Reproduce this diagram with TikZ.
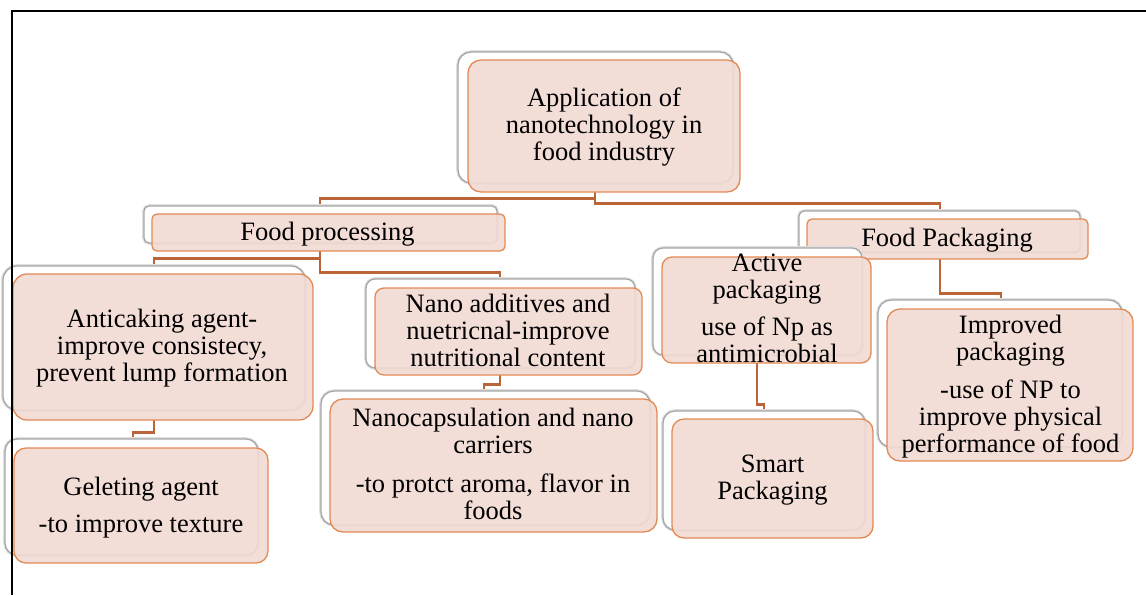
\documentclass[tikz,border=0pt]{standalone}
\usepackage{fontspec}
\setmainfont{Liberation Serif}
\definecolor{boxfill}{RGB}{242,218,211}
\definecolor{boxline}{RGB}{226,138,84}
\definecolor{connline}{RGB}{186,100,56}
\tikzset{
  backbox/.style={draw=gray!70, line width=1.3pt, fill=white, rounded corners=#1, inner sep=0pt,
    preaction={draw=gray!25, line width=3.6pt}},
  frontbox/.style={draw=boxline, line width=1.3pt, fill=boxfill, fill opacity=0.9, rounded corners=#1, inner sep=0pt},
  txt/.style={font=\fontsize{26.5}{26.7}\selectfont, align=center, inner sep=0pt, text=black,
    execute at begin node=\strut, execute at end node=\strut},
  conn/.style={draw=connline, line width=2.9pt},
}
\begin{document}
\begin{tikzpicture}[x=1pt,y=-1pt]
\useasboundingbox (0,0) rectangle (1146,595);

% front boxes positions (named nodes) defined first for connectors
\path
  (604,126)    node[minimum width=272pt, minimum height=132pt] (root) {}
  (328.5,232.5) node[minimum width=353pt, minimum height=37pt] (fp) {}
  (947.5,239)  node[minimum width=281pt, minimum height=40pt] (fpk) {}
  (766.5,310)  node[minimum width=209pt, minimum height=106pt] (act) {}
  (1010,385)   node[minimum width=246pt, minimum height=152pt] (imp) {}
  (163,347)    node[minimum width=300pt, minimum height=146pt] (anti) {}
  (508.5,331.5) node[minimum width=267pt, minimum height=87pt] (nano) {}
  (141,505.5)  node[minimum width=254pt, minimum height=115pt] (gel) {}
  (493.5,465.5) node[minimum width=327pt, minimum height=133pt] (caps) {}
  (772.5,478.5) node[minimum width=201pt, minimum height=119pt] (smart) {};

% connectors
\draw[conn] ([xshift=-9pt]root.south) -- ++(0,6) -| ([xshift=-8.5pt]fp.north);
\draw[conn] ([xshift=-9pt]root.south) -- ++(0,11) -| ([xshift=-7.5pt]fpk.north);
\draw[conn] ([xshift=-8.5pt]fp.south) -- ++(0,7) -| ([xshift=-9pt]anti.north);
\draw[conn] ([xshift=-8.5pt]fp.south) -- ++(0,21) -| ([xshift=-8.5pt]nano.north);
\draw[conn] ([xshift=-9pt]anti.south) -- ++(0,12) -| ([xshift=-8pt]gel.north);
\draw[conn] ([xshift=-8.5pt]nano.south) -- ++(0,9) -| ([xshift=-9.5pt]caps.north);
\draw[conn] ([xshift=12.5pt,yshift=12pt]fpk.south west) -| ([xshift=-8.5pt]act.north);
\draw[conn] ([xshift=-9.5pt]act.south) -- ++(0,41) -| ([xshift=-8.5pt]smart.north);
\draw[conn] ([xshift=-7.5pt]fpk.south) -- ++(0,34) -| ([xshift=-9pt]imp.north);

% boxes: back then front
\node[backbox=13pt, minimum width=275pt, minimum height=131pt] (rootb) at (595.5,117.5) {};
\node[frontbox=13pt, minimum width=272pt, minimum height=132pt] (rootf) at (root) {};

\node[backbox=5pt, minimum width=353pt, minimum height=37pt] (fpb) at (320.5,224.5) {};
\node[frontbox=5pt, minimum width=353pt, minimum height=37pt] (fpf) at (fp) {};

\node[backbox=5pt, minimum width=281pt, minimum height=41pt] (fpkb) at (939.5,231.5) {};
\node[frontbox=5pt, minimum width=281pt, minimum height=40pt] (fpkf) at (fpk) {};

\node[backbox=10pt, minimum width=209pt, minimum height=107pt] (actb) at (757.5,301.5) {};
\node[frontbox=10pt, minimum width=209pt, minimum height=106pt] (actf) at (act) {};

\node[backbox=13pt, minimum width=244pt, minimum height=147pt] (impb) at (1000,373.5) {};
\node[frontbox=13pt, minimum width=246pt, minimum height=152pt] (impf) at (imp) {};

\node[backbox=14pt, minimum width=302pt, minimum height=144pt] (antib) at (154,338) {};
\node[frontbox=14pt, minimum width=300pt, minimum height=146pt] (antif) at (anti) {};

\node[backbox=9pt, minimum width=269pt, minimum height=89pt] (nanob) at (500.5,323.5) {};
\node[frontbox=9pt, minimum width=267pt, minimum height=87pt] (nanof) at (nano) {};

\node[backbox=12pt, minimum width=253pt, minimum height=116pt] (gelb) at (131.5,497) {};
\node[frontbox=12pt, minimum width=254pt, minimum height=115pt] (gelf) at (gel) {};

\node[backbox=13pt, minimum width=329pt, minimum height=134pt] (capsb) at (485.5,458) {};
\node[frontbox=13pt, minimum width=327pt, minimum height=133pt] (capsf) at (caps) {};

\node[backbox=12pt, minimum width=202pt, minimum height=119pt] (smartb) at (764,470.5) {};
\node[frontbox=12pt, minimum width=201pt, minimum height=119pt] (smartf) at (smart) {};

% texts
\node[txt] (roott) at (604,128.2) {Application of\\nanotechnology in\\food industry};
\node[txt] (fpt) at (327.5,234.7) {Food processing};
\node[txt] (fpkt) at (947,240.7) {Food Packaging};
\node[txt] (actt) at (767,312.2) {Active\\packaging\\[11pt]use of Np as\\antimicrobial};
\node[txt] (impt) at (1010.5,387.7) {Improved\\packaging\\[12pt]-use of NP to\\improve physical\\performance of food};
\node[txt] (antit) at (162,349.2) {Anticaking agent-\\improve consistecy,\\prevent lump formation};
\node[txt] (nanot) at (508,334.2) {Nano additives and\\nuetricnal-improve\\nutritional content};
\node[txt] (capst) at (493,467.7) {Nanocapsulation and nano\\carriers\\[13pt]-to protct aroma, flavor in\\foods};
\node[txt] (gelt) at (141,508.7) {Geleting agent\\[11pt]-to improve texture};
\node[txt] (smartt) at (772.5,481.2) {Smart\\Packaging};

% page frame
\draw[line width=2pt, black] (12,595) -- (12,11) -- (1146,11);
\end{tikzpicture}
\end{document}
